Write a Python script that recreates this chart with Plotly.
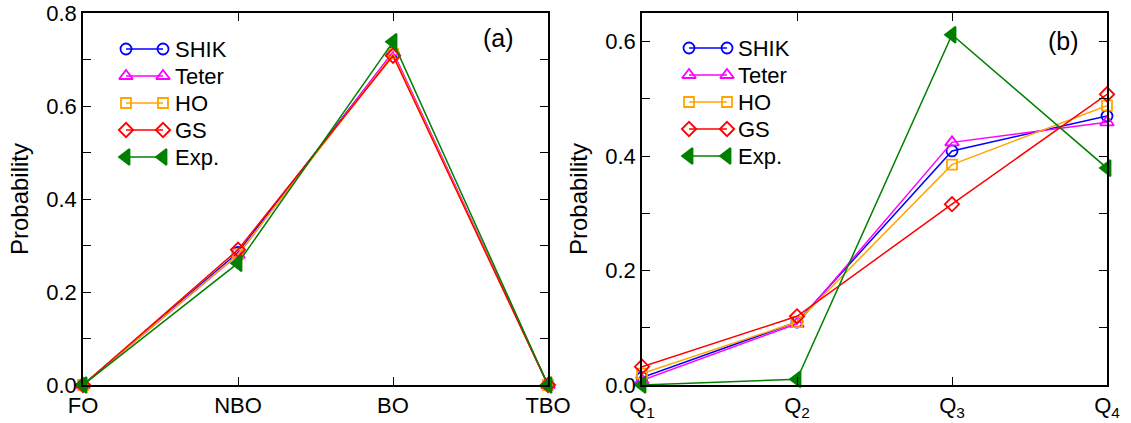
import plotly.graph_objects as go

# Panel (a): oxygen species
cat_a = ["FO", "NBO", "BO", "TBO"]
shik_a = [0.0, 0.285, 0.715, 0.0]
teter_a = [0.0, 0.280, 0.716, 0.0]
ho_a = [0.0, 0.281, 0.712, 0.0]
gs_a = [0.0, 0.291, 0.708, 0.0]
exp_a = [0.0, 0.262, 0.738, 0.0]

# Panel (b): Q^n species
cat_b = ["Q<sub>1</sub>", "Q<sub>2</sub>", "Q<sub>3</sub>", "Q<sub>4</sub>"]
shik_b = [0.013, 0.110, 0.409, 0.470]
teter_b = [0.008, 0.107, 0.424, 0.459]
ho_b = [0.020, 0.110, 0.385, 0.488]
gs_b = [0.032, 0.120, 0.316, 0.508]
exp_b = [0.0, 0.010, 0.612, 0.379]

names = ["SHIK", "Teter", "HO", "GS", "Exp."]
colors = ["#0000ff", "#ff00ff", "#ffa500", "#ff0000", "#008000"]
symbols = ["circle-open", "triangle-up-open", "square-open", "diamond-open", "triangle-left"]
sizes = [11, 12, 10, 11, 14]

FONT = "Liberation Sans, Arial, sans-serif"
W, H = 1131, 423


def px_x(p):
    return p / W


def px_y(p):
    return 1 - p / H


fig = go.Figure()

xs = [0, 1, 2, 3]
for series, xa, ya in [
    ([shik_a, teter_a, ho_a, gs_a, exp_a], "x", "y"),
    ([shik_b, teter_b, ho_b, gs_b, exp_b], "x2", "y2"),
]:
    for vals, nm, c, s, sz in zip(series, names, colors, symbols, sizes):
        fig.add_trace(go.Scatter(
            x=xs, y=vals, name=nm, mode="lines+markers",
            line=dict(color=c, width=1.5),
            marker=dict(symbol=s, size=sz, color=c, line=dict(color=c, width=1.8)),
            xaxis=xa, yaxis=ya, showlegend=False, cliponaxis=False,
        ))

# Hand-drawn legends (marker at both ends of the sample line), in a pixel-space overlay subplot
legend_layout = [  # (sample left x, sample right x, text x, first row y) in pixels
    (126, 163, 173, 49),
    (689, 727, 736, 48),
]
ROW = 27
annotations = []
for (lx0, lx1, tx, y0) in legend_layout:
    for i, (nm, c, s, sz) in enumerate(zip(names, colors, symbols, sizes)):
        yy = y0 + i * ROW
        fig.add_trace(go.Scatter(
            x=[lx0, lx1], y=[yy, yy], mode="lines+markers",
            line=dict(color=c, width=1.5),
            marker=dict(symbol=s, size=sz, color=c, line=dict(color=c, width=1.8)),
            xaxis="x3", yaxis="y3", showlegend=False, hoverinfo="skip", cliponaxis=False,
        ))
        annotations.append(dict(text=nm, x=tx, y=yy, xref="x3", yref="y3", showarrow=False,
                                xanchor="left", yanchor="middle", font=dict(size=22)))

for lbl, cx, cy in [("(a)", 498, 38), ("(b)", 1063, 41)]:
    annotations.append(dict(text=lbl, x=cx, y=cy, xref="x3", yref="y3",
                            showarrow=False, font=dict(size=25),
                            xanchor="center", yanchor="middle"))

ax_common = dict(showline=True, linecolor="black", linewidth=1.5, mirror="allticks",
                 ticks="inside", ticklen=8, tickwidth=1, tickcolor="black",
                 showgrid=False, zeroline=False, automargin=False,
                 ticklabeloverflow="allow",
                 tickfont=dict(family=FONT, size=22, color="black"))
ydom = [px_y(385), px_y(13)]

fig.update_layout(
    width=W, height=H,
    margin=dict(l=0, r=0, t=0, b=0, autoexpand=False),
    paper_bgcolor="white", plot_bgcolor="rgba(0,0,0,0)",
    font=dict(family=FONT, size=22, color="black"),
    showlegend=False,
    xaxis=dict(domain=[px_x(83), px_x(548)], range=[0, 3], tickvals=xs, ticktext=cat_a,
               anchor="y", **ax_common),
    yaxis=dict(domain=ydom, range=[0, 0.8], dtick=0.2, tickformat=".1f",
               anchor="x", minor=dict(ticks="inside", dtick=0.1, ticklen=8, tickcolor="black"),
               title=dict(text="Probability", font=dict(size=24), standoff=11), **ax_common),
    xaxis2=dict(domain=[px_x(642), px_x(1107)], range=[0, 3], tickvals=xs, ticktext=cat_b,
                anchor="y2", **ax_common),
    yaxis2=dict(domain=ydom, range=[0, 0.65], dtick=0.2, tickformat=".1f",
                anchor="x2", minor=dict(ticks="inside", dtick=0.1, ticklen=8, tickcolor="black"),
                title=dict(text="Probability", font=dict(size=24), standoff=11), **ax_common),
    xaxis3=dict(domain=[0, 1], range=[0, W], visible=False, anchor="y3", fixedrange=True,
                automargin=False),
    yaxis3=dict(domain=[0, 1], range=[H, 0], visible=False, anchor="x3", fixedrange=True,
                automargin=False),
    annotations=annotations,
)

fig.write_html("out.html", config={"displayModeBar": False},
               post_script="document.body.style.margin='0';")
